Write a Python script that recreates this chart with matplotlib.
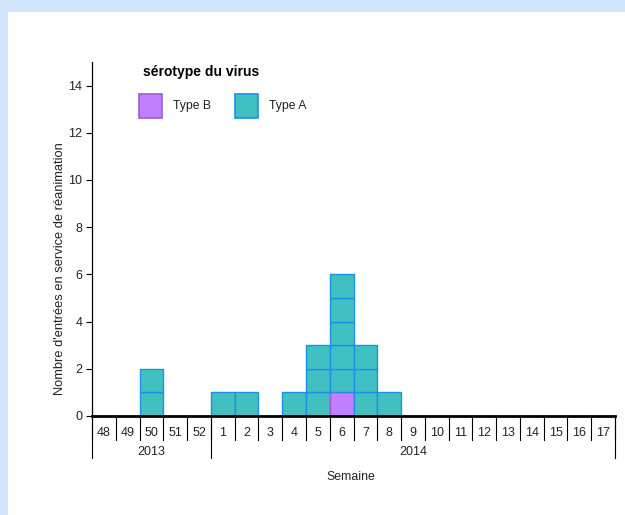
import matplotlib
matplotlib.use("Agg")
import matplotlib.pyplot as plt
from matplotlib.patches import Rectangle

plt.rcParams["font.family"] = ["Liberation Sans", "DejaVu Sans"]

# weekly ICU admissions by serotype
weeks = ["48", "49", "50", "51", "52", "1", "2", "3", "4", "5", "6",
         "7", "8", "9", "10", "11", "12", "13", "14", "15", "16", "17"]
type_b = [0, 0, 0, 0, 0, 0, 0, 0, 0, 0, 1, 0, 0, 0, 0, 0, 0, 0, 0, 0, 0, 0]
type_a = [0, 0, 2, 0, 0, 1, 1, 0, 1, 3, 5, 3, 1, 0, 0, 0, 0, 0, 0, 0, 0, 0]
years = ["2013", "2014"]
year_spans = [(0, 4), (5, 21)]

col_a, edge_a = "#40C0C0", "#1E8FE6"
col_b, edge_b = "#C080FF", "#9A5CD6"

W, H = 625, 515
fig = plt.figure(figsize=(W / 100, H / 100), dpi=100, facecolor="#D2E4FE")
fig.patches.append(Rectangle((8 / W, 0), 1, 1 - 12 / H, transform=fig.transFigure,
                             facecolor="white", edgecolor="none", zorder=-5))

ax = fig.add_axes([92 / W, 1 - 416 / H, (615 - 92) / W, (416 - 62) / H])
ax.set_facecolor("none")

# one square per case, type B at the bottom
for i in range(len(weeks)):
    level = 0
    for _ in range(type_b[i]):
        ax.bar(i, 1, bottom=level, width=1.0, color=col_b, edgecolor=edge_b, linewidth=1, zorder=2)
        level += 1
    for _ in range(type_a[i]):
        ax.bar(i, 1, bottom=level, width=1.0, color=col_a, edgecolor=edge_a, linewidth=1, zorder=2)
        level += 1

ax.set_xlim(-0.5, len(weeks) - 0.5)
ax.set_ylim(0, 15)
ax.set_yticks(range(0, 15, 2))
ax.tick_params(axis="y", labelsize=9, length=4, width=0.8, pad=3, labelcolor="#222222")
ax.set_xticks(range(len(weeks)))
ax.set_xticklabels(weeks)
ax.tick_params(axis="x", labelsize=9, length=0, pad=8, labelcolor="#222222")
ax.spines["top"].set_visible(False)
ax.spines["right"].set_visible(False)
ax.spines["left"].set_linewidth(0.9)
ax.spines["bottom"].set_linewidth(2)

# table lines below axis
tr = ax.get_xaxis_transform()
cell = 24 / (416 - 62)
yr = 42 / (416 - 62)
for k in range(len(weeks) + 1):
    ax.plot([k - 0.5, k - 0.5], [0, -cell], color="black", lw=0.8, transform=tr, clip_on=False)
for (a, b), y in zip(year_spans, years):
    ax.plot([a - 0.5, a - 0.5], [0, -yr], color="black", lw=0.8, transform=tr, clip_on=False)
    ax.text((a + b) / 2, -36 / (416 - 62), y, transform=tr, ha="center", va="center",
            fontsize=9, color="#222222")
ax.plot([len(weeks) - 0.5] * 2, [0, -yr], color="black", lw=0.8, transform=tr, clip_on=False)

fig.text(351 / W, 1 - 477 / H, "Semaine", ha="center", va="center", fontsize=8.8, color="#222222")
fig.text(60 / W, 1 - 269 / H, "Nombre d'entrées en service de réanimation",
         rotation=90, ha="center", va="center", fontsize=9.3, color="#222222")

# legend
fig.text(143 / W, 1 - 72 / H, "sérotype du virus", fontsize=10, fontweight="bold", va="center")
for x0, lbl, fc, ec in [(139, "Type B", col_b, edge_b), (235, "Type A", col_a, edge_a)]:
    fig.patches.append(Rectangle((x0 / W, 1 - 118 / H), 23 / W, 24 / H, transform=fig.transFigure,
                                 facecolor=fc, edgecolor=ec, linewidth=1.2))
    fig.text((x0 + 34) / W, 1 - 106 / H, lbl, fontsize=8.8, va="center", color="#222222")

fig.savefig("out.png", dpi=100, facecolor=fig.get_facecolor())
